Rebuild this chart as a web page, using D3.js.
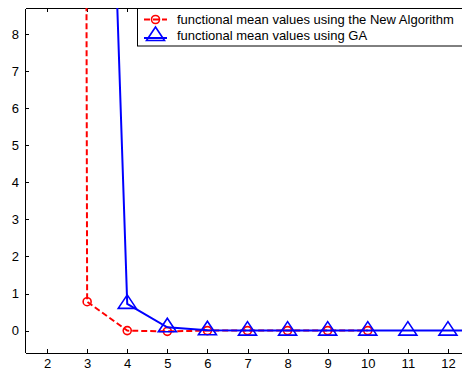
<!DOCTYPE html>
<html><head><meta charset="utf-8">
<script src="https://cdn.jsdelivr.net/npm/d3@7"></script>
<style>
html,body{margin:0;padding:0;background:#fff;}
svg{display:block;}
text{font-family:"Liberation Sans",Arial,sans-serif;}
</style></head>
<body><svg id="chart" width="462" height="372"></svg>
<script>
// Data
const xNewAlg = [2, 3, 4, 5, 6, 7, 8, 9, 10];
const yNewAlg = [500, 0.78, 0.0, -0.02, 0, 0, 0, 0, 0];
const xGA = [2, 3, 4, 5, 6, 7, 8, 9, 10, 11, 12, 13];
const yGA = [300, 33, 0.72, 0.09, 0.01, 0, 0, 0, 0, 0, 0, 0];
const xTicks = [2, 3, 4, 5, 6, 7, 8, 9, 10, 11, 12];
const yTicks = [0, 1, 2, 3, 4, 5, 6, 7, 8];
const legendLabels = ["functional mean values using the New Algorithm", "functional mean values using GA"];

const svg = d3.select("#chart");
const L = 25, T = 8, B = 352.5, R = 470;
const x = d3.scaleLinear().domain([1.45, 12.55]).range([L, R]);
const y = d3.scaleLinear().domain([-0.59, 8.7]).range([B, T]);

svg.append("defs").append("clipPath").attr("id", "clip")
  .append("rect").attr("x", L).attr("y", T).attr("width", R - L).attr("height", B - T);

// axes (MATLAB style inward ticks)
const gx = svg.append("g").attr("transform", `translate(0,${B})`)
  .call(d3.axisBottom(x).tickValues(xTicks).tickSizeInner(-4).tickSizeOuter(0).tickPadding(6));
const gxt = svg.append("g").attr("transform", `translate(0,${T})`)
  .call(d3.axisTop(x).tickValues(xTicks).tickSizeInner(-4).tickSizeOuter(0).tickFormat(""));
const gy = svg.append("g").attr("transform", `translate(${L},0)`)
  .call(d3.axisLeft(y).tickValues(yTicks).tickSizeInner(-4).tickSizeOuter(0).tickPadding(6));
[gx, gxt, gy].forEach(g => {
  g.selectAll("path,line").attr("stroke", "#000").attr("stroke-width", 1).attr("shape-rendering", "crispEdges");
  g.selectAll("text").attr("fill", "#000").style("font-size", "13px")
    .style("font-family", "'Liberation Sans', Arial, sans-serif");
});
gx.selectAll("text").attr("dy", "0.71em");

const plot = svg.append("g").attr("clip-path", "url(#clip)");
const line = d3.line().x(d => x(d[0])).y(d => y(d[1]));

const red = xNewAlg.map((v, i) => [v, yNewAlg[i]]);
const blue = xGA.map((v, i) => [v, yGA[i]]);

plot.append("path").datum(red).attr("d", line).attr("fill", "none")
  .attr("stroke", "#ff0000").attr("stroke-width", 2).attr("stroke-dasharray", "6,3");
plot.selectAll("circle.r").data(red).join("circle").attr("class", "r")
  .attr("cx", d => x(d[0])).attr("cy", d => y(d[1])).attr("r", 4)
  .attr("fill", "none").attr("stroke", "#ff0000").attr("stroke-width", 1.6);

const triH = 13.5, triW = 18;
function tri(cx, cy) {
  // data point at centroid
  return `M${cx},${cy - triH * 2 / 3}L${cx + triW / 2},${cy + triH / 3}L${cx - triW / 2},${cy + triH / 3}Z`;
}
plot.append("path").datum(blue).attr("d", line).attr("fill", "none")
  .attr("stroke", "#0000ff").attr("stroke-width", 2);
plot.selectAll("path.b").data(blue).join("path").attr("class", "b")
  .attr("d", d => tri(x(d[0]), y(d[1])))
  .attr("fill", "none").attr("stroke", "#0000ff").attr("stroke-width", 1.6);

// legend
const lg = svg.append("g");
lg.append("rect").attr("x", 137.5).attr("y", 8.5).attr("width", 340).attr("height", 37.5)
  .attr("fill", "#fff").attr("stroke", "#000").attr("stroke-width", 1);
const ly = [19.5, 35];
lg.append("line").attr("x1", 144).attr("x2", 167).attr("y1", ly[0]).attr("y2", ly[0])
  .attr("stroke", "#ff0000").attr("stroke-width", 2).attr("stroke-dasharray", "6,3");
lg.append("circle").attr("cx", 155.5).attr("cy", ly[0]).attr("r", 4)
  .attr("fill", "none").attr("stroke", "#ff0000").attr("stroke-width", 1.6);
lg.append("line").attr("x1", 144).attr("x2", 167).attr("y1", ly[1] + 3).attr("y2", ly[1] + 3)
  .attr("stroke", "#0000ff").attr("stroke-width", 2);
lg.append("path").attr("d", tri(155.5, ly[1] + 1)).attr("fill", "none")
  .attr("stroke", "#0000ff").attr("stroke-width", 1.6);
legendLabels.forEach((t, i) => {
  lg.append("text").attr("x", 177).attr("y", ly[i]).attr("dy", "0.35em")
    .style("font-size", "13px").attr("fill", "#000").text(t);
});
</script></body></html>
